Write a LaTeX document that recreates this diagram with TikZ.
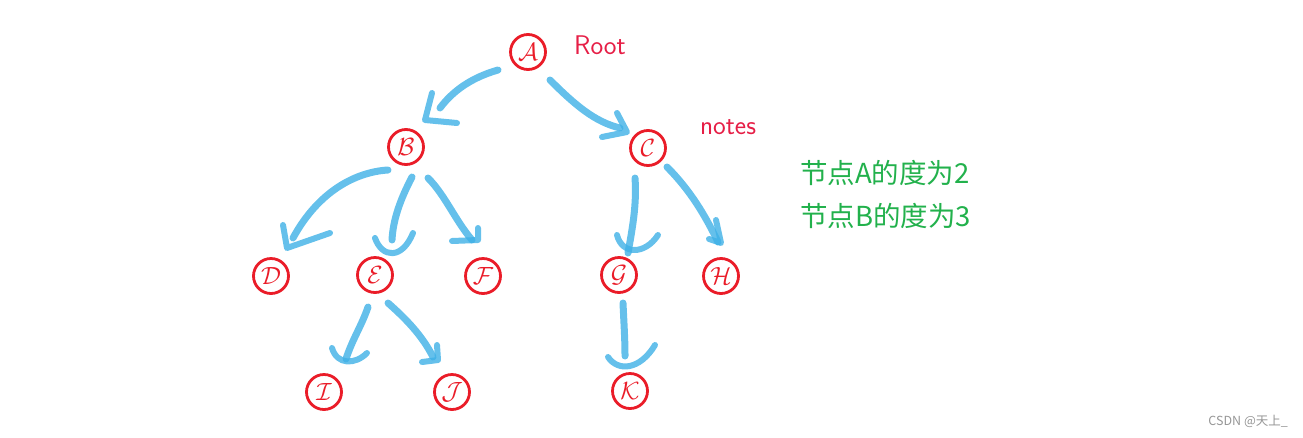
\documentclass[tikz,border=0pt]{standalone}
\usepackage{fontspec}
\newfontfamily\cjk{Noto Sans CJK SC}
\usetikzlibrary{calc}
\definecolor{nodered}{RGB}{234,28,40}
\definecolor{brushblue}{RGB}{62,176,230}
\definecolor{txtgreen}{RGB}{34,177,76}
\definecolor{rootred}{RGB}{230,30,70}
\definecolor{wmgray}{RGB}{150,150,150}
\begin{document}
\begin{tikzpicture}[x=1pt,y=-1pt,
  tnode/.style={circle,draw=nodered,line width=2.8pt,minimum size=35pt,inner sep=0pt,
    text=nodered,font=\fontsize{23}{23}\selectfont},
  brush/.style={draw=brushblue,line width=7pt,line cap=round,line join=round,opacity=0.8},
  brushhead/.style={draw=brushblue,line width=6pt,line cap=round,line join=round,opacity=0.8},
  lbl/.style={text=rootred,font=\sffamily\fontsize{27}{27}\selectfont},
  cjklbl/.style={text=txtgreen,anchor=west,inner sep=0pt,font=\cjk\fontsize{27.5}{30}\selectfont}]
\useasboundingbox (0,0) rectangle (1303,437);
% nodes
\node[tnode] (A) at (528,52) {$\mathcal{A}$};
\node[tnode] (B) at (406,147) {$\mathcal{B}$};
\node[tnode] (C) at (648,148) {$\mathcal{C}$};
\node[tnode] (D) at (271,276) {$\mathcal{D}$};
\node[tnode] (E) at (375,275) {$\mathcal{E}$};
\node[tnode] (F) at (483,276) {$\mathcal{F}$};
\node[tnode] (G) at (619,275) {$\mathcal{G}$};
\node[tnode] (H) at (721,276) {$\mathcal{H}$};
\node[tnode] (I) at (324,392) {$\mathcal{I}$};
\node[tnode] (J) at (452,392) {$\mathcal{J}$};
\node[tnode] (K) at (630,391) {$\mathcal{K}$};
% labels
\node[lbl] (root) at (600,45) {Root};
\node[lbl] (notes) at (728,127) {notes};
\node[cjklbl] (degA) at (800,173) {节点A的度为2};
\node[cjklbl] (degB) at (800,216) {节点B的度为3};
\node[text=wmgray,anchor=east,inner sep=0pt,font=\cjk\fontsize{12.5}{14}\selectfont] (wm) at (1288,421) {CSDN @天上\_};
% A -> B
\draw[brush] ($(A)+(-30,18)$) .. controls (470,78) and (452,92) .. ($(B)+(34,-39)$);
\draw[brushhead] ($(B)+(26,-54)$) -- ($(B)+(19,-27)$) -- ($(B)+(51,-24)$);
% A -> C
\draw[brush] ($(A)+(22,28)$) .. controls (575,105) and (595,122) .. ($(C)+(-28,-20)$);
\draw[brushhead] ($(C)+(-31,-35)$) -- ($(C)+(-21,-16)$) -- ($(C)+(-46,-11)$);
% B -> D
\draw[brush] ($(B)+(-18,23)$) .. controls (355,172) and (318,192) .. ($(D)+(22,-38)$);
\draw[brushhead] ($(D)+(12,-51)$) -- ($(D)+(16,-28)$) -- ($(D)+(59,-43)$);
% B -> E
\draw[brush] ($(B)+(6,30)$) .. controls (400,200) and (393,220) .. ($(E)+(17,-35)$);
\draw[brushhead] ($(E)+(0,-37)$) .. controls (382,258) and (402,260) .. ($(E)+(38,-42)$);
% B -> F
\draw[brush] ($(B)+(22,31)$) .. controls (445,195) and (455,220) .. ($(F)+(-11,-36)$);
\draw[brushhead] ($(F)+(-5,-48)$) -- ($(F)+(-5,-36)$) -- ($(F)+(-31,-35)$);
% C -> G
\draw[brush] ($(C)+(-13,30)$) .. controls (637,205) and (632,230) .. ($(G)+(9,-22)$);
\draw[brushhead] ($(G)+(-2,-40)$) .. controls (622,255) and (645,255) .. ($(G)+(39,-40)$);
% C -> H
\draw[brush] ($(C)+(19,19)$) .. controls (690,190) and (705,215) .. ($(H)+(-3,-34)$);
\draw[brushhead] ($(H)+(-5,-56)$) -- ($(H)+(0,-33)$) -- ($(H)+(-12,-37)$);
% E -> I
\draw[brush] ($(E)+(-7,32)$) .. controls (362,325) and (352,340) .. ($(I)+(22,-33)$);
\draw[brushhead] ($(I)+(8,-44)$) .. controls (337,365) and (355,365) .. ($(I)+(43,-39)$);
% E -> J
\draw[brush] ($(E)+(13,28)$) .. controls (405,318) and (422,335) .. ($(J)+(-19,-35)$);
\draw[brushhead] ($(J)+(-15,-47)$) -- ($(J)+(-14,-32)$) -- ($(J)+(-30,-30)$);
% G -> K
\draw[brush] ($(G)+(4,28)$) .. controls (624,325) and (625,340) .. ($(K)+(-5,-35)$);
\draw[brushhead] ($(K)+(-22,-34)$) .. controls (618,372) and (640,370) .. ($(K)+(25,-46)$);
\end{tikzpicture}
\end{document}
